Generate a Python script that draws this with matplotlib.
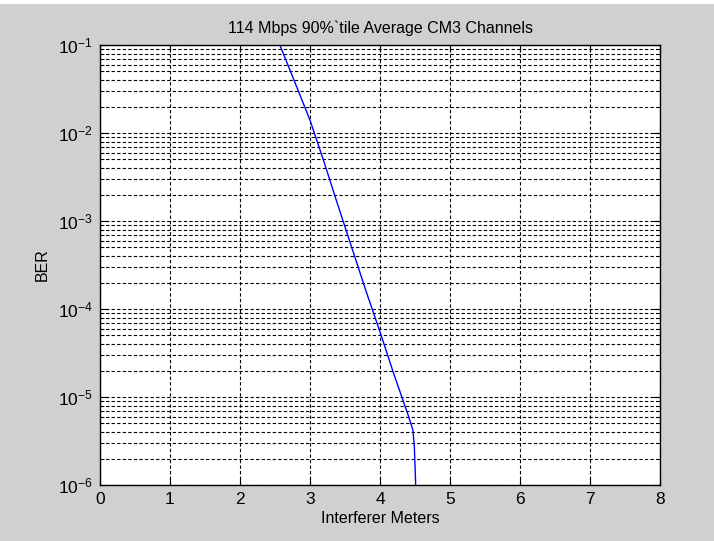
import numpy as np
import matplotlib.pyplot as plt
from matplotlib.ticker import LogLocator, NullFormatter

# BER vs interferer distance (90%-tile, CM3 channels, 114 Mbps)
distance_m = [2.5, 2.6, 2.8, 3.0, 3.2, 3.4, 3.6, 3.8, 4.0, 4.2, 4.4, 4.47, 4.49, 4.52]
ber = [1.4e-1, 8.7e-2, 3.5e-2, 1.4e-2, 4.7e-3, 1.5e-3, 4.9e-4, 1.6e-4,
       5.5e-5, 1.8e-5, 6.3e-6, 4.2e-6, 2.8e-6, 6.0e-7]

x_ticks = [0, 1, 2, 3, 4, 5, 6, 7, 8]

plt.rcParams['font.family'] = ['Liberation Sans', 'DejaVu Sans']
plt.rcParams['mathtext.fontset'] = 'custom'
plt.rcParams['mathtext.rm'] = 'Liberation Sans'

fig = plt.figure(figsize=(7.14, 5.41), dpi=100, facecolor='#d0d0d0')
ax = fig.add_axes([100 / 714, 1 - 485 / 541, 560 / 714, 440 / 541])

ax.semilogy(distance_m, ber, color='#0000ff', linewidth=1.0)

ax.set_xlim(0, 8)
ax.set_ylim(1e-6, 1e-1)
ax.set_xticks(x_ticks)
ax.yaxis.set_major_locator(LogLocator(base=10, numticks=10))
ax.yaxis.set_minor_locator(LogLocator(base=10, subs=np.arange(2, 10), numticks=10))
ax.yaxis.set_minor_formatter(NullFormatter())

dash = (0, (3, 2))
ax.grid(True, which='major', axis='both', color='black', linestyle=dash, linewidth=0.8)
ax.grid(True, which='minor', axis='y', color='black', linestyle=dash, linewidth=0.8)

ax.tick_params(which='both', direction='in', top=True, right=True, labelsize=12.5, pad=5)
ax.tick_params(which='major', length=5)
ax.tick_params(which='minor', length=3)
for sp in ax.spines.values():
    sp.set_linewidth(1.0)

ax.set_title("114 Mbps 90%`tile Average CM3 Channels", fontsize=11.5, pad=9)
ax.set_xlabel('Interferer Meters', fontsize=11.5, labelpad=3)
ax.set_ylabel('BER', fontsize=11.5, labelpad=6)

# white strip along the top edge
fig.patches.append(plt.Rectangle((0, 1 - 4 / 541), 1, 4 / 541, transform=fig.transFigure,
                                 facecolor='white', edgecolor='none'))

fig.savefig('out.png', dpi=100, facecolor=fig.get_facecolor())
